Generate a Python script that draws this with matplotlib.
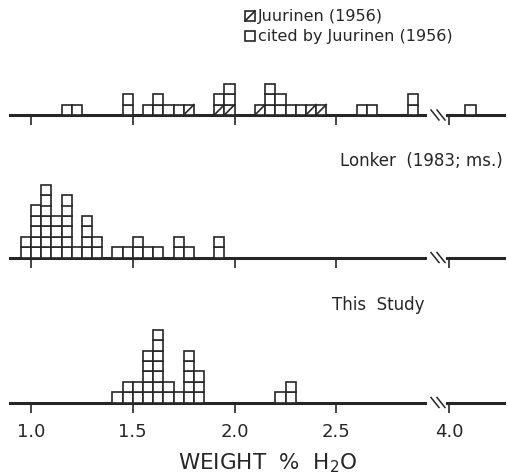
import matplotlib
matplotlib.use("Agg")
import matplotlib.pyplot as plt
from matplotlib.patches import Rectangle
from matplotlib.lines import Line2D

# bin left edges (wt % H2O, bin width 0.05) and box counts
top_bins = [1.15, 1.20, 1.45, 1.55, 1.60, 1.65, 1.70, 1.75, 1.90, 1.95, 2.10,
            2.15, 2.20, 2.25, 2.30, 2.35, 2.40, 2.60, 2.65, 2.85, 4.08]
juurinen = [0, 0, 0, 0, 0, 0, 0, 1, 1, 1, 1, 0, 0, 0, 0, 1, 1, 0, 0, 0, 0]
cited = [1, 1, 2, 1, 2, 1, 1, 0, 1, 2, 0, 3, 2, 1, 1, 0, 0, 1, 1, 2, 1]

lonker_bins = [0.95, 1.00, 1.05, 1.10, 1.15, 1.20, 1.25, 1.30, 1.40, 1.45,
               1.50, 1.55, 1.60, 1.70, 1.75, 1.90]
lonker = [2, 5, 7, 4, 6, 1, 4, 2, 1, 1, 2, 1, 1, 2, 1, 2]

study_bins = [1.40, 1.45, 1.50, 1.55, 1.60, 1.65, 1.70, 1.75, 1.80, 2.20, 2.25]
study = [1, 2, 2, 5, 7, 2, 1, 5, 3, 1, 2]

left_ticks = [1.0, 1.5, 2.0, 2.5]
right_ticks = [4.0]
bw = 0.05
ink = "#262626"

W, H = 508, 477
fig = plt.figure(figsize=(W / 100, H / 100), dpi=100)
fig.patch.set_facecolor("white")


def fx(px):
    return px / W


def fy(py):
    return 1 - py / H


def style_axis(ax, ticks, labels):
    for s in ["top", "left", "right"]:
        ax.spines[s].set_visible(False)
    ax.spines["bottom"].set_linewidth(2.2)
    ax.spines["bottom"].set_color(ink)
    ax.set_yticks([])
    ax.set_ylim(0, 8)
    ax.set_xticks(ticks)
    ax.tick_params(axis="x", direction="out", length=7, width=1.2,
                   color=ink, pad=7, labelsize=13, labelcolor=ink)
    if labels:
        ax.set_xticklabels([f"{t:.1f}" for t in ticks])
    else:
        ax.set_xticklabels([])
    ax.patch.set_alpha(0)


def draw_boxes(ax, bins, counts, hatched=None):
    if hatched is None:
        hatched = [0] * len(bins)
    for b, n, h in zip(bins, counts, hatched):
        for k in range(n + h):
            ax.bar(b, 1, width=bw, bottom=k, align="edge", facecolor="white",
                   edgecolor=ink, linewidth=1.2, zorder=3)
            if k < h:
                ax.plot([b, b + bw], [k, k + 1], color=ink, lw=1.2, zorder=4)


baselines = [116, 258.5, 403.5]
panels = [(top_bins, cited, juurinen), (lonker_bins, lonker, None),
          (study_bins, study, None)]
box_h = 10.4 * 8

for i, (base, (bins, counts, hat)) in enumerate(zip(baselines, panels)):
    show = i == 2
    axl = fig.add_axes([fx(10), fy(base), fx(415), box_h / H])
    axl.set_xlim(0.897, 2.935)
    style_axis(axl, left_ticks, show)
    axr = fig.add_axes([fx(447), fy(base), fx(57), box_h / H])
    axr.set_xlim(3.99, 4.27)
    style_axis(axr, right_ticks, show)
    lb = [b for b in bins if b < 3]
    rb = [b for b in bins if b >= 3]
    lc = [c for b, c in zip(bins, counts) if b < 3]
    rc = [c for b, c in zip(bins, counts) if b >= 3]
    lh = [h for b, h in zip(bins, hat) if b < 3] if hat else None
    rh = [h for b, h in zip(bins, hat) if b >= 3] if hat else None
    draw_boxes(axl, lb, lc, lh)
    draw_boxes(axr, rb, rc, rh)
    # axis break marks
    for x0 in (431, 437):
        fig.add_artist(Line2D([fx(x0), fx(x0 + 8)], [fy(base - 5), fy(base + 5)],
                              color=ink, lw=1.1))

# panel titles
fig.text(fx(503), fy(161), "Lonker  (1983; ms.)", ha="right", va="center",
         fontsize=12, color=ink)
fig.text(fx(425), fy(305), "This  Study", ha="right", va="center",
         fontsize=12, color=ink)

# legend
for yc, hatch, label in [(17, True, "Juurinen (1956)"),
                         (37, False, "cited by Juurinen (1956)")]:
    fig.add_artist(Rectangle((fx(245), fy(yc + 5)), fx(10), 10 / H,
                             facecolor="white", edgecolor=ink, lw=1.2))
    if hatch:
        fig.add_artist(Line2D([fx(245), fx(255)], [fy(yc + 5), fy(yc - 5)],
                              color=ink, lw=1.2))
    fig.text(fx(258), fy(yc), label, ha="left", va="center",
             fontsize=11.5, color=ink)

fig.text(fx(268), fy(463), "WEIGHT  %  H$_2$O", ha="center", va="center",
         fontsize=15.5, color=ink)

fig.savefig("out.png", dpi=100, facecolor="white")
